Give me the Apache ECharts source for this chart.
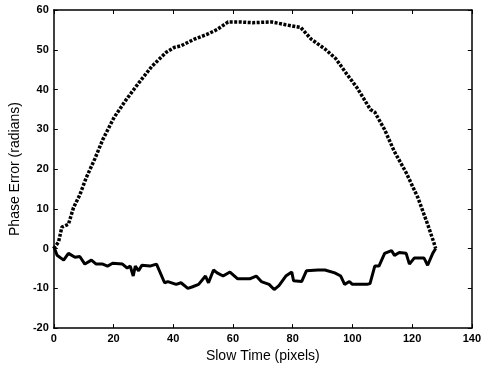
<!DOCTYPE html>
<html>
<head>
<meta charset="utf-8">
<script src="https://cdn.jsdelivr.net/npm/echarts@6/dist/echarts.min.js"></script>
<style>
  html, body { margin: 0; padding: 0; background: #fff; }
  #chart { width: 484px; height: 368px; }
</style>
</head>
<body>
<div id="chart"></div>
<script>
// upper (dotted) curve: slow time vs phase error
const upperX = [0, 1.6, 2.7, 4.9, 6.6, 8.7, 10.9, 13.7, 16.4, 20.2, 24, 28.4, 32.8, 37.7, 40.4, 42.6, 46.9, 51.4, 54.7, 58.4, 62.3, 66.6, 73, 77.6, 82.7, 86.3, 90.8, 94.4, 98.4, 101.6, 106, 107.5, 110.8, 114, 118, 122, 125.2, 127.2, 127.9];
const upperY = [0, 1.7, 5.4, 6.1, 10.3, 13.5, 17.9, 22.5, 27.4, 33, 37.2, 41.6, 45.8, 49.4, 50.6, 51, 52.6, 53.9, 55.1, 57, 57, 56.8, 57, 56.3, 55.6, 52.6, 50.2, 47.8, 43.6, 40.4, 35, 34.3, 29.9, 24.5, 19.1, 12.7, 6.1, 1.7, 0];

// lower (solid) curve
const lowerX = [0, 1.1, 3.3, 4.9, 5.5, 7.1, 8.7, 10.4, 12.6, 14.2, 16.4, 18, 19.7, 23, 24.6, 25.6, 26.6, 27.3, 28.4, 29.5, 32.2, 34.4, 37.1, 38.2, 41, 42.6, 44.9, 46.5, 48.5, 50.8, 51.8, 53.5, 54.7, 56.7, 59, 61.6, 65.6, 67.8, 69.5, 72.1, 73.8, 75.4, 77.7, 79.7, 80.3, 83, 84.6, 88.5, 90.8, 94.1, 96.1, 97.4, 99, 100, 104.9, 105.9, 107.5, 108.9, 110.8, 113.1, 114.1, 115.7, 118, 119.1, 120.7, 124, 125.2, 126.9, 127.9];
const lowerY = [0.5, -1.7, -2.9, -1.2, -1, -2.2, -2, -3.9, -2.9, -3.9, -3.9, -4.4, -3.7, -3.9, -4.9, -4.4, -6.9, -4.4, -5.6, -4.2, -4.4, -3.9, -8.6, -8.3, -9, -8.6, -10, -9.6, -9, -6.9, -8.6, -5.4, -6.1, -6.9, -5.9, -7.6, -7.6, -6.9, -8.3, -9, -10.3, -9.3, -6.9, -5.9, -8.1, -8.3, -5.6, -5.4, -5.4, -6.1, -6.9, -9, -8.3, -9, -9, -8.8, -4.4, -4.4, -1.2, -0.5, -1.7, -1, -1.2, -3.9, -2.4, -2.4, -4.2, -1.2, 0];

const xTicks = [0, 20, 40, 60, 80, 100, 120, 140];
const yTicks = [-20, -10, 0, 10, 20, 30, 40, 50, 60];

const zip = (xs, ys) => xs.map((x, i) => [x, ys[i]]);

const chart = echarts.init(document.getElementById("chart"));

const labelFont = {
  color: "#000",
  fontFamily: "Liberation Sans, Arial, sans-serif",
  fontWeight: "bold",
  fontSize: 11,
};

const frameAxis = {
  axisLine: { show: true, onZero: false, lineStyle: { color: "#000", width: 1.5 } },
  axisTick: { show: true, inside: true, length: 4, lineStyle: { color: "#000" } },
  splitLine: { show: false },
};

const option = {
  animation: false,
  backgroundColor: "#fff",
  grid: { left: 50, right: 7, top: 10, bottom: 31 },
  xAxis: [
    {
      type: "value",
      min: xTicks[0],
      max: xTicks[xTicks.length - 1],
      interval: 20,
      name: "Slow Time (pixels)",
      nameLocation: "middle",
      nameGap: 17,
      nameTextStyle: { color: "#000", fontFamily: "Liberation Sans, Arial, sans-serif", fontSize: 14 },
      axisLabel: { ...labelFont, margin: 5 },
      ...frameAxis,
    },
    {
      type: "value",
      position: "top",
      min: xTicks[0],
      max: xTicks[xTicks.length - 1],
      interval: 20,
      axisLabel: { show: false },
      ...frameAxis,
    },
  ],
  yAxis: [
    {
      type: "value",
      min: yTicks[0],
      max: yTicks[yTicks.length - 1],
      interval: 10,
      name: "Phase Error (radians)",
      nameLocation: "middle",
      nameGap: 30,
      nameTextStyle: { color: "#000", fontFamily: "Liberation Sans, Arial, sans-serif", fontSize: 14 },
      axisLabel: { ...labelFont, margin: 5 },
      ...frameAxis,
    },
    {
      type: "value",
      position: "right",
      min: yTicks[0],
      max: yTicks[yTicks.length - 1],
      interval: 10,
      axisLabel: { show: false },
      ...frameAxis,
    },
  ],
  series: [
    {
      type: "line",
      data: zip(upperX, upperY),
      showSymbol: false,
      lineStyle: { color: "#000", width: 3.5, type: [3, 1.5] },
    },
    {
      type: "line",
      data: zip(lowerX, lowerY),
      showSymbol: false,
      lineStyle: { color: "#000", width: 3 },
    },
  ],
};

chart.setOption(option);
</script>
</body>
</html>
